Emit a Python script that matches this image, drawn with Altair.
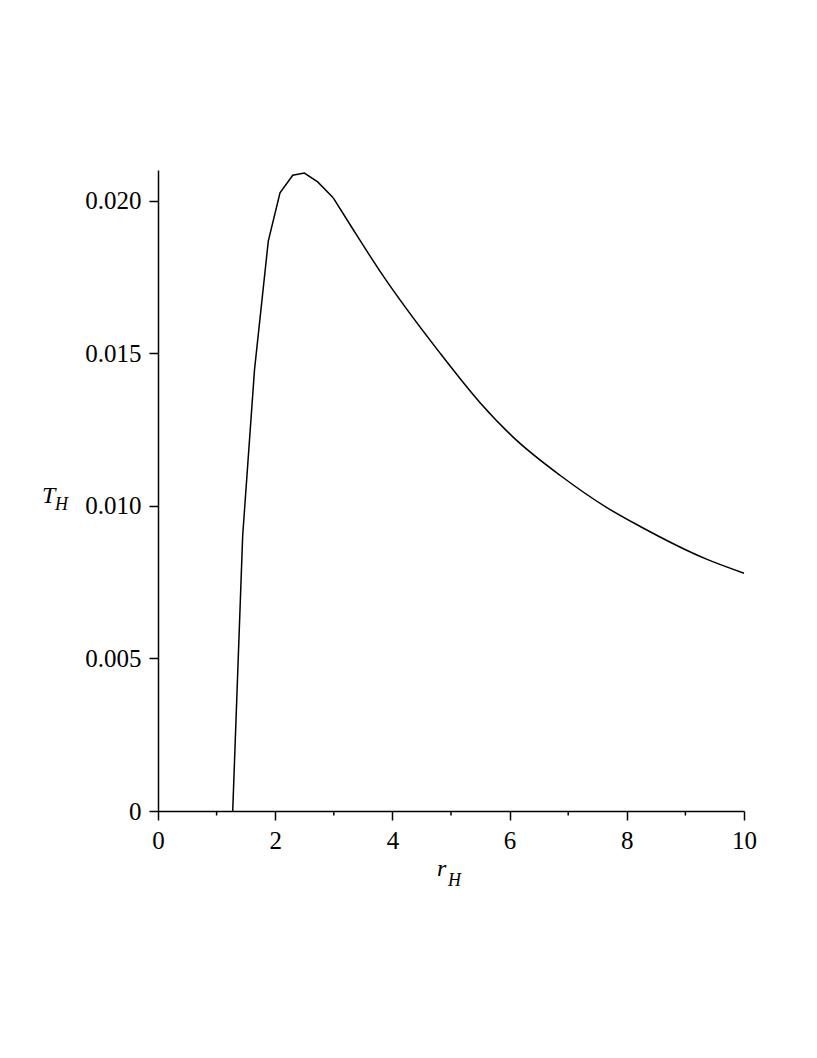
import altair as alt
import pandas as pd

# sampled curve near the peak (straight segments as in the source plot)
r_head = [1.275, 1.445, 1.647, 1.882, 2.082, 2.299, 2.497, 2.725, 2.99]
t_head = [0.0, 0.00902, 0.01446, 0.01867, 0.02025, 0.02083, 0.02090, 0.02061, 0.02009]
# smooth tail of the curve
r_tail = [2.99, 3.33, 3.79, 4.81, 5.50, 6.06, 6.86, 7.66, 8.23, 9.36, 10.0]
t_tail = [0.02009, 0.01905, 0.01768, 0.01501, 0.01337, 0.01225, 0.01100, 0.00994,
          0.00932, 0.00825, 0.00779]
x_major = [0, 2, 4, 6, 8, 10]
x_minor = [1, 3, 5, 7, 9]
y_ticks = [0, 0.005, 0.010, 0.015, 0.020]

W, H = 586, 641
FONT = "Liberation Serif"

head_df = pd.DataFrame({"r": r_head, "T": t_head})
tail_df = pd.DataFrame({"r": r_tail, "T": t_tail})
minor_df = pd.DataFrame({"r": x_minor})

xscale = alt.Scale(domain=[0, 10], nice=False)
yscale = alt.Scale(domain=[0, 0.0210], nice=False)

xenc = alt.X("r:Q", scale=xscale,
             axis=alt.Axis(values=x_major, title=None, format="d", labelPadding=8,
                           labelFlush=False))
yenc = alt.Y("T:Q", scale=yscale,
             axis=alt.Axis(values=y_ticks, title=None, labelPadding=8, labelFlush=False,
                           labelExpr="datum.value == 0 ? '0' : format(datum.value, '.3f')"))

head = alt.Chart(head_df).mark_line(color="black", strokeWidth=1.5).encode(x=xenc, y=yenc)
tail = alt.Chart(tail_df).mark_line(color="black", strokeWidth=1.5,
                                    interpolate="monotone").encode(x=xenc, y=yenc)

minor = alt.Chart(minor_df).mark_rule(color="black", strokeWidth=1.5).encode(
    x=alt.X("r:Q", scale=xscale),
    y=alt.value(H),
    y2=alt.value(H + 4.5),
)

def label(txt, x, y, size, italic=True):
    return alt.Chart(pd.DataFrame({"t": [txt]})).mark_text(
        font=FONT, fontSize=size, fontStyle="italic" if italic else "normal",
        align="left", baseline="alphabetic", color="black"
    ).encode(text="t:N", x=alt.value(x), y=alt.value(y))

titles = [
    label("T", -116, 333, 24),
    label("H", -103, 340, 18),
    label("r", 279, 706, 24),
    label("H", 290, 716, 18),
]

chart = alt.layer(head, tail, minor, *titles).properties(
    width=W, height=H,
    autosize=alt.AutoSizeParams(type="none"),
    padding={"left": 150, "top": 162, "right": 65, "bottom": 180},
).configure_view(stroke=None).configure_axis(
    grid=False, domainColor="black", domainWidth=1.5, tickColor="black",
    tickWidth=1.5, tickSize=9, labelFont=FONT, labelFontSize=25,
    labelColor="black",
)

chart.save("out.html", embed_options={"renderer": "svg", "actions": False})
